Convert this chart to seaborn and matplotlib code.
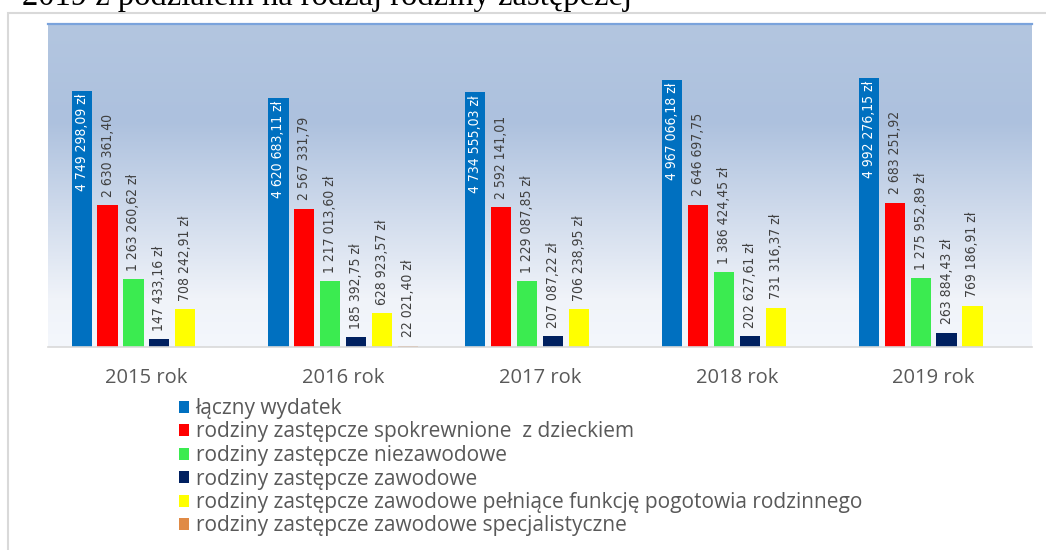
import numpy as np
import pandas as pd
import matplotlib.pyplot as plt
import seaborn as sns
from matplotlib.patches import Patch, Rectangle
from matplotlib.colors import LinearSegmentedColormap

years = ['2015 rok', '2016 rok', '2017 rok', '2018 rok', '2019 rok']
series = ['łączny wydatek',
          'rodziny zastępcze spokrewnione  z dzieckiem',
          'rodziny zastępcze niezawodowe',
          'rodziny zastępcze zawodowe',
          'rodziny zastępcze zawodowe pełniące funkcję pogotowia rodzinnego',
          'rodziny zastępcze zawodowe specjalistyczne']
colors = ['#0070C0', '#FF0000', '#3BEB50', '#002060', '#FFFF00', '#E08A45']

lacznie = [4749298.09, 4620683.11, 4734555.03, 4967066.18, 4992276.15]
spokrewnione = [2630361.40, 2567331.79, 2592141.01, 2646697.75, 2683251.92]
niezawodowe = [1263260.62, 1217013.60, 1229087.85, 1386424.45, 1275952.89]
zawodowe = [147433.16, 185392.75, 207087.22, 202627.61, 263884.43]
pogotowie = [708242.91, 628923.57, 706238.95, 731316.37, 769186.91]
specjalistyczne = [np.nan, 22021.40, np.nan, np.nan, np.nan]
values = [lacznie, spokrewnione, niezawodowe, zawodowe, pogotowie, specjalistyczne]

rows = []
for s, vals in zip(series, values):
    for y, v in zip(years, vals):
        if not np.isnan(v):
            rows.append({'rok': y, 'seria': s, 'kwota': v})
df = pd.DataFrame(rows)


def fmt(v, suffix=True):
    s = f'{v:,.2f}'.replace(',', ' ').replace('.', ',')
    return s + ' zł' if suffix else s


sns.set_theme(style='white')
plt.rcParams['font.family'] = ['Open Sans', 'DejaVu Sans']

fig = plt.figure(figsize=(10.46, 5.5), dpi=100)
ax = fig.add_axes([48 / 1046, 1 - 347 / 550, (1032 - 48) / 1046, (347 - 24) / 550])

# gradient background of the plot area (top -> bottom)
cmap = LinearSegmentedColormap.from_list('bg', [(0, '#B3C6E0'), (0.3, '#ADC1DE'),
                                                (0.85, '#F0F3F9'), (1, '#F4F7FC')])
grad = np.linspace(0, 1, 256).reshape(-1, 1)
ax.imshow(grad, cmap=cmap, aspect='auto', origin='upper',
          extent=[-0.5, 4.5, 0, 6e6], zorder=0)

sns.barplot(data=df, x='rok', y='kwota', hue='seria', hue_order=series,
            order=years, palette=colors, width=0.79, gap=0.22, legend=False,
            linewidth=0, saturation=1, ax=ax, zorder=2)

ax.set_xlim(-0.5, 4.5)
ax.set_ylim(0, 6e6)
ax.set_xlabel('')
ax.set_ylabel('')
ax.set_yticks([])
ax.tick_params(axis='x', length=0, pad=15, labelsize=14.5, labelcolor='#595959')
for sp in ['left', 'right']:
    ax.spines[sp].set_visible(False)
ax.spines['bottom'].set_color('#D9D9D9')
ax.spines['bottom'].set_linewidth(1.2)
ax.spines['top'].set_color('#7AA3DC')
ax.spines['top'].set_linewidth(1.6)

label_font = ['DejaVu Sans']
for i, cont in enumerate(ax.containers):
    for bar in cont:
        h = bar.get_height()
        xc = bar.get_x() + bar.get_width() / 2
        if i == 0:
            ax.annotate(fmt(h), (xc, h), xytext=(0, -2), textcoords='offset points',
                        rotation=90, ha='center', va='top', color='white',
                        fontsize=10, family=label_font, fontstretch='condensed',
                        zorder=3)
        else:
            ax.annotate(fmt(h, suffix=(i != 1)), (xc, h), xytext=(0, 6),
                        textcoords='offset points', rotation=90, ha='center',
                        va='bottom', color='#404040', fontsize=10,
                        family=label_font, fontstretch='condensed', zorder=3)

handles = [Patch(facecolor=c, edgecolor='none') for c in colors]
fig.legend(handles, series, loc='upper left', bbox_to_anchor=(179 / 1046, 1 - 398 / 550),
           frameon=False, fontsize=15, handlelength=0.5, handleheight=0.5,
           handletextpad=0.3, labelspacing=0.12, borderaxespad=0, borderpad=0,
           labelcolor='#595959')

# outer chart border
fig.patches.append(Rectangle((8 / 1046, -0.01), 1.02, 1 - 13 / 550 + 0.01,
                             transform=fig.transFigure, fill=False,
                             edgecolor='#D9D9D9', linewidth=1.5, zorder=0))

fig.text(22 / 1046, 1 - 5 / 550, '2019 z podziałem na rodzaj rodziny zastępczej',
         family=['Liberation Serif', 'DejaVu Serif'], fontsize=23.5, va='baseline',
         ha='left', color='black')

fig.savefig('out.png', dpi=100)
